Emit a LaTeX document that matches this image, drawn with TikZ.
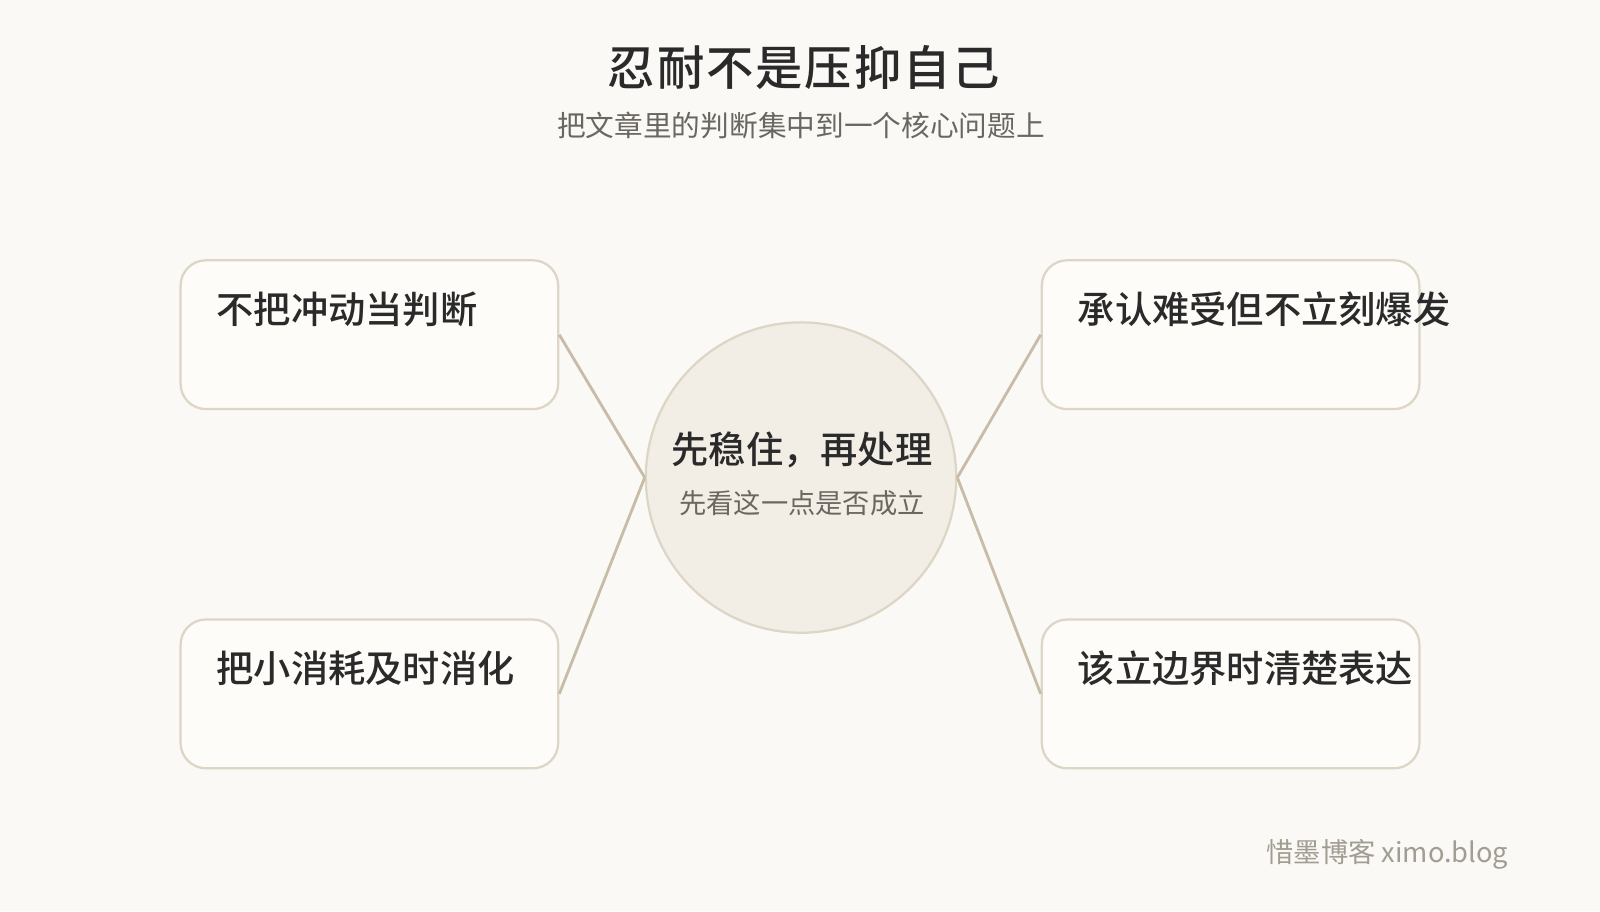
\documentclass[tikz,border=0pt]{standalone}
\usepackage{fontspec}
\IfFontExistsTF{Noto Sans CJK SC Medium}
  {\setmainfont{Noto Sans CJK SC}[BoldFont={Noto Sans CJK SC Medium}]}
  {\setmainfont{Noto Sans CJK SC}}
\usepackage{tikz}
\usetikzlibrary{arrows,%
                shapes,positioning}

\definecolor{paper}{HTML}{FAF9F6}
\definecolor{ink}{HTML}{2A2A2A}
\definecolor{softink}{HTML}{6A6660}
\definecolor{rim}{HTML}{DDD5C6}
\definecolor{corefill}{HTML}{F2EEE6}
\definecolor{boxfill}{HTML}{FDFCF9}
\definecolor{spoke}{HTML}{C8BCA8}
\definecolor{credit}{HTML}{A29D92}

\tikzset{
  idea/.style={draw=rim, line width=1.6pt, fill=boxfill, rounded corners=18pt,
               minimum width=9.44cm, minimum height=3.72cm},
  ideatext/.style={anchor=west, inner sep=0pt, text=ink,
                   font=\fontsize{26.5}{30}\selectfont\bfseries},
  hub/.style={circle, draw=rim, line width=1.6pt, fill=corefill,
              minimum size=7.76cm},
  link/.style={draw=spoke, line width=2pt}
}

\begin{document}
\begin{tikzpicture}[x=0.02551cm, y=-0.02551cm]
\useasboundingbox[fill=paper] (0,0) rectangle (1568,893);
% heading
\node[text=ink, font=\fontsize{33.7}{38}\selectfont\bfseries\addfontfeature{LetterSpace=4}] (title) at (788,66) {忍耐不是压抑自己};
\node[text=softink, font=\fontsize{20.4}{24}\selectfont] (subtitle) at (785,123) {把文章里的判断集中到一个核心问题上};
% center
\node[hub] (core) at (785,468) {};
\node[text=ink, font=\fontsize{26.5}{30}\selectfont\bfseries] (coremain) at (786,441) {先稳住，再处理};
\node[text=softink, font=\fontsize{19.4}{22}\selectfont] (coresub) at (786,493) {先看这一点是否成立};
% four boxes
\node[idea] (impulse) at (362,328) {};
\node[idea] (drain) at (362,680) {};
\node[idea] (admit) at (1206,328) {};
\node[idea] (boundary) at (1206,680) {};
\node[ideatext] (impulsetxt) at (212,303) {不把冲动当判断};
\node[ideatext] (draintxt) at (212,655) {把小消耗及时消化};
\node[ideatext] (admittxt) at (1056,303) {承认难受但不立刻爆发};
\node[ideatext] (boundarytxt) at (1056,655) {该立边界时清楚表达};
% spokes
\draw[link] (impulse.east) -- (core.west);
\draw[link] (drain.east) -- (core.west);
\draw[link] (core.east) -- (admit.west);
\draw[link] (core.east) -- (boundary.west);
% credit
\node[anchor=east, text=credit, font=\fontsize{19.4}{22}\selectfont] (credit) at (1483,837) {惜墨博客 ximo.blog};
\end{tikzpicture}
\end{document}
